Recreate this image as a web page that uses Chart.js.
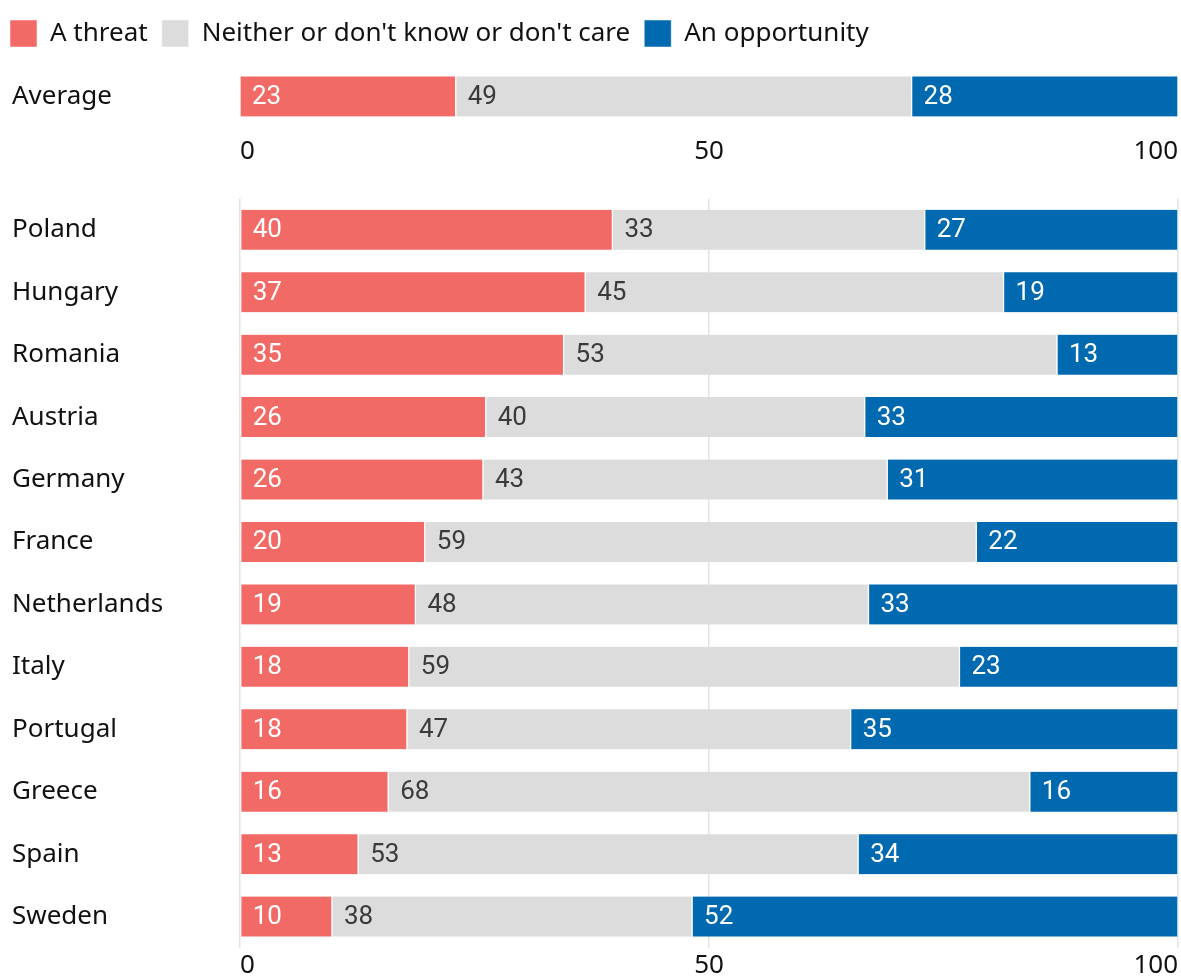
<!DOCTYPE html>
<html>
<head>
<meta charset="utf-8">
<script src="https://cdn.jsdelivr.net/npm/chart.js@4"></script>
<style>
  html, body { margin: 0; padding: 0; background: #fff; overflow: hidden; }
  #wrap { position: relative; width: 1181px; height: 976px; }
  #topBox { position: absolute; left: 0; top: 0; width: 1181px; height: 170px; }
  #bottomBox { position: absolute; left: 0; top: 180px; width: 1181px; height: 803px; }
</style>
</head>
<body>
<div id="wrap">
  <div id="topBox"><canvas id="averageChart"></canvas></div>
  <div id="bottomBox"><canvas id="countryChart"></canvas></div>
</div>
<script>
// 凡例と系列名
const seriesNames = ['A threat', "Neither or don't know or don't care", 'An opportunity'];
const seriesColors = ['#f26a66', '#dcdcdc', '#0069b0'];
const labelColors = ['#ffffff', '#3a3a3a', '#ffffff'];

// 平均 (バーの長さは画像から読んだ値、表示は整数)
const averageLabel = ['Average'];
const averageThreat = [23.0];
const averageNeither = [48.6];
const averageOpportunity = [28.4];

// 国別
const countries = ['Poland', 'Hungary', 'Romania', 'Austria', 'Germany', 'France',
    'Netherlands', 'Italy', 'Portugal', 'Greece', 'Spain', 'Sweden'];
const threat = [39.7, 36.8, 34.5, 26.2, 25.9, 19.7, 18.7, 18.0, 17.8, 15.8, 12.6, 9.8];
const neither = [33.3, 44.6, 52.6, 40.4, 43.1, 58.8, 48.3, 58.7, 47.3, 68.4, 53.3, 38.4];
const opportunity = [27.0, 18.6, 12.9, 33.4, 31.0, 21.5, 33.0, 23.3, 34.9, 15.8, 34.1, 51.8];

const xTicks = [0, 50, 100];

const textFont = { family: '"Noto Sans", sans-serif', size: 26 };
const numberFont = '26px Roboto, sans-serif';

// バーの中に数値を描く
const valueLabels = {
    id: 'valueLabels',
    afterDatasetsDraw(chart) {
        const ctx = chart.ctx;
        ctx.save();
        ctx.font = numberFont;
        ctx.textBaseline = 'middle';
        ctx.textAlign = 'left';
        chart.data.datasets.forEach((ds, i) => {
            const meta = chart.getDatasetMeta(i);
            meta.data.forEach((bar, j) => {
                const p = bar.getProps(['x', 'y', 'base'], true);
                ctx.fillStyle = labelColors[i];
                ctx.fillText(Math.round(ds.data[j]), p.base + 12, p.y + 1);
            });
        });
        ctx.restore();
    }
};

// 凡例を左端に寄せる
const legendLeft = {
    id: 'legendLeft',
    afterLayout(chart) {
        chart.legend.left = -4;
    }
};

function makeDatasets(a, b, c) {
    return [a, b, c].map((values, i) => ({
        label: seriesNames[i],
        data: values,
        backgroundColor: seriesColors[i],
        borderColor: '#ffffff',
        borderWidth: { left: 1, right: 1, top: 0, bottom: 0 },
        borderSkipped: false,
        barThickness: 40
    }));
}

function xScale(showGrid, pad) {
    return {
        stacked: true,
        min: 0,
        max: 100,
        afterBuildTicks(scale) {
            scale.ticks = xTicks.map(v => ({ value: v }));
        },
        grid: {
            display: showGrid,
            color: '#e3e3e3',
            lineWidth: 1.5,
            drawTicks: false
        },
        border: { display: false },
        ticks: {
            align: 'inner',
            padding: pad,
            color: '#111',
            font: textFont
        }
    };
}

function yScale() {
    return {
        stacked: true,
        grid: { display: false },
        border: { display: false },
        afterFit(scale) { scale.width = 228; },
        ticks: {
            crossAlign: 'far',
            color: '#111',
            font: textFont
        }
    };
}

new Chart(document.getElementById('averageChart'), {
    type: 'bar',
    data: {
        labels: averageLabel,
        datasets: makeDatasets(averageThreat, averageNeither, averageOpportunity)
    },
    options: {
        indexAxis: 'y',
        responsive: true,
        maintainAspectRatio: false,
        animation: false,
        layout: { padding: { left: 12, right: 3, top: 6, bottom: 3 } },
        plugins: {
            legend: {
                position: 'top',
                align: 'start',
                labels: {
                    boxWidth: 27,
                    boxHeight: 27,
                    padding: 14,
                    color: '#111',
                    font: textFont
                }
            },
            tooltip: { enabled: false }
        },
        scales: { x: xScale(false, 0), y: yScale() }
    },
    plugins: [valueLabels, legendLeft]
});

new Chart(document.getElementById('countryChart'), {
    type: 'bar',
    data: {
        labels: countries,
        datasets: makeDatasets(threat, neither, opportunity)
    },
    options: {
        indexAxis: 'y',
        responsive: true,
        maintainAspectRatio: false,
        animation: false,
        layout: { padding: { left: 12, right: 3, top: 18, bottom: 0 } },
        plugins: {
            legend: { display: false },
            tooltip: { enabled: false }
        },
        scales: { x: xScale(true, 2), y: yScale() }
    },
    plugins: [valueLabels]
});
</script>
</body>
</html>
